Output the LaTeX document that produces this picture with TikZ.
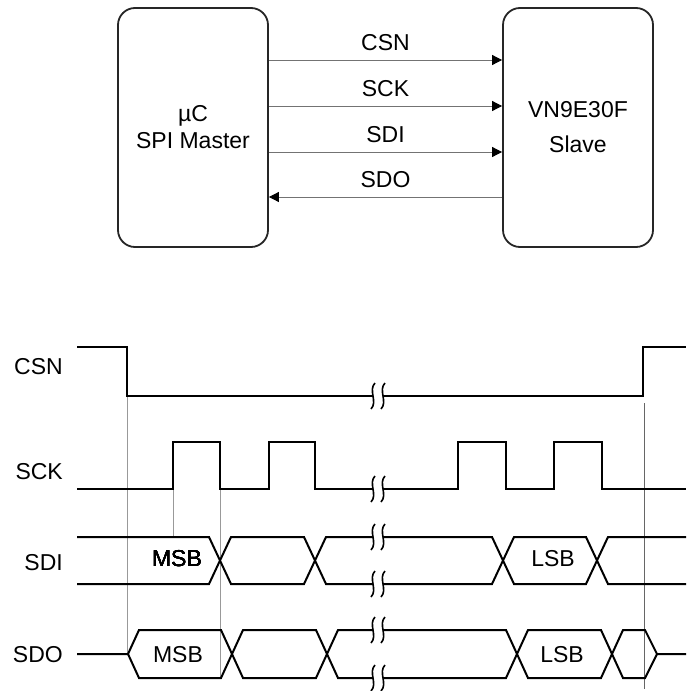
\documentclass[tikz,border=0pt]{standalone}
\usepackage{fontspec}
\setmainfont{Liberation Sans}
\usetikzlibrary{arrows.meta,positioning}
\tikzstyle{box}=[draw=black!85,line width=1.8pt,rounded corners=17pt,minimum width=150pt,minimum height=239pt,align=center]
\tikzstyle{sig}=[draw=black!55,line width=0.8pt,-{Triangle[length=10pt,width=10pt,color=black]}]
\tikzstyle{wave}=[draw,line width=2pt]
\tikzstyle{guide}=[draw=black!40,line width=0.8pt]
\tikzstyle{lbl}=[anchor=east,inner sep=0pt]
% break mark on a line at (x,y)
\newcommand{\brkmark}[2]{
  \draw[wave,line width=1.6pt] (#1-3,#2-13) .. controls (#1-10,#2-6) and (#1,#2+6) .. (#1-7,#2+13);
  \draw[wave,line width=1.6pt] (#1+7,#2-13) .. controls (#1,#2-6) and (#1+10,#2+6) .. (#1+3,#2+13);
}

\begin{document}
\begin{tikzpicture}[x=1pt,y=-1pt,font=\fontsize{23}{27}\selectfont]
        \useasboundingbox (0,0) rectangle (686,691);
        % block diagram
        \node[box] (master) at (193,127.5) {µC\\SPI Master};
        \node[box] (slave) at (578,127.5) {VN9E30F\\[8pt]Slave};
        \draw[sig] ([yshift=67.5pt]master.east) -- ([yshift=67.5pt]slave.west) node[midway,above=6pt] {CSN};
        \draw[sig] ([yshift=21.5pt]master.east) -- ([yshift=21.5pt]slave.west) node[midway,above=6pt] {SCK};
        \draw[sig] ([yshift=-24.5pt]master.east) -- ([yshift=-24.5pt]slave.west) node[midway,above=6pt] {SDI};
        \draw[sig] ([yshift=-69.5pt]slave.west) -- ([yshift=-69.5pt]master.east) node[midway,above=6pt] {SDO};
        % timing
        \node[lbl] (lcsn) at (63,367) {CSN};
        \node[lbl] (lsck) at (63,472) {SCK};
        \node[lbl] (lsdi) at (63,563) {SDI};
        \node[lbl] (lsdo) at (63,655) {SDO};
        \draw[guide] (127,396) -- (127,654);
        \draw[guide] (173,489) -- (173,537);
        \draw[guide] (220,489) -- (220,678);
        \draw[guide,draw=black!60] (644,403) -- (644,689);
        % CSN
        \draw[wave] (77,347) -- (127,347) -- (127,396) -- (373,396);
        \draw[wave] (383,396) -- (643,396) -- (643,347) -- (686,347);
        % SCK
        \draw[wave] (77,489) -- (173,489) -- (173,442) -- (220,442) -- (220,489) -- (269,489)
          -- (269,442) -- (315,442) -- (315,489) -- (373,489);
        \draw[wave] (383,489) -- (458,489) -- (458,442) -- (506,442) -- (506,489) -- (554,489)
          -- (554,442) -- (602,442) -- (602,489) -- (686,489);
        % SDI
        \draw[wave] (77,537) -- (209,537) -- (231,584) -- (304,584) -- (326,537) -- (373,537);
        \draw[wave] (77,584) -- (209,584) -- (231,537) -- (304,537) -- (326,584) -- (373,584);
        \draw[wave] (383,537) -- (492,537) -- (514,584) -- (586,584) -- (608,537) -- (686,537);
        \draw[wave] (383,584) -- (492,584) -- (514,537) -- (586,537) -- (608,584) -- (686,584);
        % SDO
        \draw[wave] (77,654) -- (128,654) -- (139,630) -- (221,630) -- (243,678) -- (316,678) -- (338,630) -- (373,630);
        \draw[wave] (128,654) -- (139,678) -- (221,678) -- (243,630) -- (316,630) -- (338,678) -- (373,678);
        \draw[wave] (383,630) -- (506,630) -- (528,678) -- (601,678) -- (623,630) -- (645,630) -- (657,654) -- (686,654);
        \draw[wave] (383,678) -- (506,678) -- (528,630) -- (601,630) -- (623,678) -- (645,678) -- (657,654);
        \foreach \y in {396,489,537,584,630,678}
          \brkmark{378}{\y}
        \node (msbi) at (177,559) {MSB};
        \node (lsbi) at (553,559) {LSB};
        \node (msbo) at (178,655) {MSB};
        \node (lsbo) at (562,655) {LSB};
      \end{tikzpicture}
\end{document}
